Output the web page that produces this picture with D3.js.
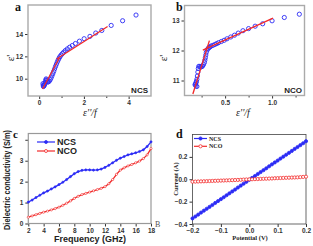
<!DOCTYPE html>
<html>
<head>
<meta charset="utf-8">
<script src="https://cdn.jsdelivr.net/npm/d3@7"></script>
<style>
  body { margin: 0; background: #fff; }
  svg { display: block; }
  .tk text { font-family: "Liberation Sans", Arial, sans-serif; font-weight: bold; fill: #333; }
  .tk path { display: none; }
</style>
</head>
<body>
<svg id="fig" width="313" height="246"></svg>
<script>
// panel a : eps' vs eps''/f (NCS)
const aX = [4.33,3.73,3.22,2.80,2.53,2.27,2.01,1.80,1.62,1.48,1.36,1.26,1.17,1.10,1.04,0.98,0.93,0.89,0.85,0.81,0.77,0.73,0.69,0.65,0.61,0.57,0.53,0.49,0.45,0.41,0.38,0.35,0.33,0.31,0.29,0.27,0.25,0.23,0.21,0.19,0.18,0.17]
const aY = [15.70,15.19,14.77,14.32,14.09,13.79,13.58,13.36,13.15,12.97,12.82,12.67,12.52,12.38,12.25,12.12,11.98,11.84,11.68,11.50,11.30,11.10,10.88,10.66,10.45,10.25,10.06,9.90,9.78,9.72,9.70,9.78,9.90,9.98,9.85,9.66,9.52,9.42,9.35,9.30,9.42,9.56]
const aFits = [[[0.15,9.08],[0.90,11.85]], [[0.78,11.76],[3.06,14.68]]]

// panel b : eps' vs eps''/f (NCO)
const bX = [1.29,1.13,1.00,0.90,0.82,0.75,0.69,0.64,0.60,0.56,0.52,0.49,0.46,0.43,0.41,0.39,0.37,0.35,0.34,0.33,0.32,0.31,0.30,0.295,0.29,0.285,0.28,0.27,0.26,0.25,0.24,0.23,0.22,0.215,0.21,0.205,0.20,0.195,0.19,0.185,0.18,0.19,0.20]
const bY = [13.21,13.10,12.99,12.89,12.81,12.73,12.66,12.58,12.51,12.45,12.39,12.34,12.30,12.26,12.23,12.20,12.17,12.15,12.12,12.10,12.07,12.02,11.94,11.85,11.76,11.68,11.60,11.53,11.48,11.46,11.45,11.47,11.47,11.40,11.28,11.15,11.04,10.97,10.92,10.88,10.86,10.82,10.80]
const bFits = [[[0.157,10.55],[0.333,12.33]], [[0.263,12.01],[1.01,13.08]]]

// panel c : dielectric conductivity vs frequency
const freq = [2,2.5,3,3.5,4,4.5,5,5.5,6,6.5,7,7.5,8,8.5,9,9.5,10,10.5,11,11.5,12,12.5,13,13.5,14,14.5,15,15.5,16,16.5,17,17.5,18]
const condNCS = [1.02,1.12,1.24,1.35,1.46,1.55,1.65,1.75,1.86,1.97,2.10,2.24,2.38,2.48,2.54,2.56,2.56,2.55,2.56,2.60,2.68,2.78,2.90,3.02,3.12,3.20,3.28,3.33,3.38,3.44,3.52,3.68,3.90]
const condNCO = [0.30,0.36,0.42,0.48,0.54,0.59,0.65,0.71,0.78,0.87,0.97,1.08,1.20,1.30,1.38,1.44,1.50,1.56,1.62,1.68,1.76,1.90,2.10,2.35,2.55,2.66,2.75,2.82,2.90,2.98,3.10,3.28,3.58]

// panel d : I-V
const volt = [-0.20,-0.19,-0.18,-0.17,-0.16,-0.15,-0.14,-0.13,-0.12,-0.11,-0.10,-0.09,-0.08,-0.07,-0.06,-0.05,-0.04,-0.03,-0.02,-0.01,0.00,0.01,0.02,0.03,0.04,0.05,0.06,0.07,0.08,0.09,0.10,0.11,0.12,0.13,0.14,0.15,0.16,0.17,0.18,0.19,0.20]
const curNCS = [-0.350,-0.333,-0.316,-0.298,-0.281,-0.264,-0.247,-0.230,-0.212,-0.195,-0.178,-0.161,-0.143,-0.126,-0.109,-0.092,-0.074,-0.057,-0.040,-0.023,-0.005,0.012,0.029,0.047,0.064,0.081,0.098,0.116,0.133,0.150,0.167,0.185,0.202,0.219,0.236,0.253,0.271,0.288,0.305,0.322,0.340]
const curNCO = [-0.022,-0.021,-0.020,-0.019,-0.018,-0.017,-0.016,-0.015,-0.014,-0.013,-0.012,-0.011,-0.010,-0.009,-0.008,-0.007,-0.006,-0.005,-0.003,-0.002,-0.001,0.000,0.001,0.002,0.003,0.004,0.005,0.006,0.007,0.009,0.010,0.011,0.012,0.013,0.014,0.015,0.016,0.017,0.019,0.021,0.023]

const blue = "#2b2bf5", red = "#f22a2a"
const svg = d3.select("#fig")

function frame(x, y, col, w) {
    svg.append("rect")
        .attr("x", x.range()[0]).attr("y", y.range()[1])
        .attr("width", x.range()[1] - x.range()[0])
        .attr("height", y.range()[0] - y.range()[1])
        .attr("fill", "none").attr("stroke", col).attr("stroke-width", w)
}

function axes(x, y, xt, yt, xmin, fs, fmtX, fmtY, col) {
    const gx = svg.append("g").attr("class", "tk")
        .attr("transform", `translate(0,${y.range()[0]})`)
        .call(d3.axisBottom(x).tickValues(xt).tickSize(3).tickPadding(1.5).tickFormat(fmtX))
    const gy = svg.append("g").attr("class", "tk")
        .attr("transform", `translate(${x.range()[0]},0)`)
        .call(d3.axisLeft(y).tickValues(yt).tickSize(3).tickPadding(2).tickFormat(fmtY))
    if (xmin.length) {
        svg.append("g").attr("class", "tk")
            .attr("transform", `translate(0,${y.range()[0]})`)
            .call(d3.axisBottom(x).tickValues(xmin).tickSize(2).tickFormat(""))
    }
    svg.selectAll(".tk text").style("font-size", fs + "px")
    svg.selectAll(".tk line").attr("stroke", col)
}

// ---------- a ----------
const xa = d3.scaleLinear().domain([-0.5, 5]).range([28, 151])
const ya = d3.scaleLinear().domain([8.45, 16.6]).range([96, 5])
axes(xa, ya, [0, 2, 4], [10, 12, 14], [1, 3], 8, d3.format("d"), d3.format("d"), "#999")
frame(xa, ya, "#aaa", 1.4)
svg.append("g").selectAll("circle").data(aX).join("circle")
    .attr("cx", d => xa(d)).attr("cy", (d, i) => ya(aY[i])).attr("r", 2.1)
    .attr("fill", "none").attr("stroke", blue).attr("stroke-width", 0.9)
svg.append("g").selectAll("line").data(aFits).join("line")
    .attr("x1", d => xa(d[0][0])).attr("y1", d => ya(d[0][1]))
    .attr("x2", d => xa(d[1][0])).attr("y2", d => ya(d[1][1]))
    .attr("stroke", red).attr("stroke-width", 1.3)

// ---------- b ----------
const xb = d3.scaleLinear().domain([0.068, 1.345]).range([184.5, 304.5])
const yb = d3.scaleLinear().domain([10.5, 13.5]).range([95.5, 5.5])
axes(xb, yb, [0.5, 1.0], [11, 12, 13], [0.25, 0.75, 1.25], 8, d3.format(".1f"), d3.format("d"), "#999")
frame(xb, yb, "#aaa", 1.4)
svg.append("g").selectAll("circle").data(bX).join("circle")
    .attr("cx", d => xb(d)).attr("cy", (d, i) => yb(bY[i])).attr("r", 2.1)
    .attr("fill", "none").attr("stroke", blue).attr("stroke-width", 0.9)
svg.append("g").selectAll("line").data(bFits).join("line")
    .attr("x1", d => xb(d[0][0])).attr("y1", d => yb(d[0][1]))
    .attr("x2", d => xb(d[1][0])).attr("y2", d => yb(d[1][1]))
    .attr("stroke", red).attr("stroke-width", 1.3)

// ---------- c ----------
const xc = d3.scaleLinear().domain([2, 18]).range([28.3, 151])
const yc = d3.scaleLinear().domain([0, 4.3]).range([223.5, 133.5])
axes(xc, yc, d3.range(2, 19, 2), [0, 1, 2, 3, 4], [], 8, d3.format("d"), d => d == 4 ? "" : d, "#666")
frame(xc, yc, "#999", 1.2)
const lineC = d3.line().x((d, i) => xc(freq[i])).y(d => yc(d))
;[[condNCS, blue, true], [condNCO, red, false]].forEach(([s, c, filled]) => {
    svg.append("path").attr("d", lineC(s)).attr("fill", "none").attr("stroke", c).attr("stroke-width", 1.3)
    svg.append("g").selectAll("circle").data(s).join("circle")
        .attr("cx", (d, i) => xc(freq[i])).attr("cy", d => yc(d)).attr("r", 1.1)
        .attr("fill", filled ? c : "#fff").attr("stroke", c).attr("stroke-width", 0.6)
})

// ---------- d ----------
const xd = d3.scaleLinear().domain([-0.2, 0.2]).range([192.5, 306])
const yd = d3.scaleLinear().domain([-0.4, 0.4]).range([224, 134.5])
axes(xd, yd, [-0.2, -0.1, 0, 0.1, 0.2], [-0.4, -0.2, 0, 0.2], [], 6.5, d3.format(".1f"), d3.format(".1f"), "#333")
frame(xd, yd, "#444", 0.8)
;[[curNCS, blue, true], [curNCO, red, false]].forEach(([s, c, filled]) => {
    svg.append("path").attr("d", d3.line().x((d, i) => xd(volt[i])).y(d => yd(d))(s))
        .attr("fill", "none").attr("stroke", c).attr("stroke-width", 1)
    svg.append("g").selectAll("circle").data(s).join("circle")
        .attr("cx", (d, i) => xd(volt[i])).attr("cy", d => yd(d)).attr("r", 1.6)
        .attr("fill", filled ? c : "#fff").attr("stroke", c).attr("stroke-width", 0.8)
})

// ---------- texts ----------
const serif = "'Liberation Serif', 'Times New Roman', serif"
const sans = "'Liberation Sans', Arial, sans-serif"
function txt(x, y, s, o) {
    const t = svg.append("text").attr("x", x).attr("y", y).text(s)
        .style("font-family", o.ff || sans).style("font-size", o.fs + "px")
        .style("font-weight", o.fw || "bold").style("fill", o.fill || "#222")
        .attr("text-anchor", o.anchor || "start")
    if (o.fst) t.style("font-style", o.fst)
    if (o.rot) t.attr("transform", `rotate(-90,${x},${y})`)
    if (o.len) t.attr("textLength", o.len).attr("lengthAdjust", "spacingAndGlyphs")
    return t
}
txt(15, 11, "a", {ff: serif, fs: 12, fill: "#111"})
txt(176, 11, "b", {ff: serif, fs: 12, fill: "#111"})
txt(13, 138, "c", {ff: serif, fs: 11, fill: "#111"})
txt(176, 138, "d", {ff: serif, fs: 12, fill: "#111"})

txt(14, 58, "ε'", {ff: serif, fs: 11, rot: true, anchor: "middle", fw: "normal"})
txt(167, 58, "ε'", {ff: serif, fs: 11, rot: true, anchor: "middle", fw: "normal"})
txt(90, 116, "ε''/f", {ff: serif, fs: 10, fst: "italic", anchor: "middle", fw: "normal"})
txt(243, 116, "ε''/f", {ff: serif, fs: 10, fst: "italic", anchor: "middle", fw: "normal"})
txt(148, 93, "NCS", {fs: 8, anchor: "end"})
txt(302, 93, "NCO", {fs: 8, anchor: "end"})

txt(10, 180, "Dielectric conductivity (S/m)", {fs: 8.5, rot: true, anchor: "middle", len: 100})
txt(90, 242, "Frequency (GHz)", {fs: 9, anchor: "middle"})

txt(178, 179, "Current (A)", {ff: serif, fs: 6.5, rot: true, anchor: "middle"})
txt(250, 240, "Potential (V)", {ff: serif, fs: 6.5, anchor: "middle"})
txt(155, 227, "B", {ff: serif, fs: 8, fw: "normal", fill: "#555"})

// legends
function legend(x0, x1, y, c, filled, label, fs, ff, r) {
    svg.append("line").attr("x1", x0).attr("x2", x1).attr("y1", y).attr("y2", y)
        .attr("stroke", c).attr("stroke-width", 1.2)
    svg.append("circle").attr("cx", (x0 + x1) / 2).attr("cy", y).attr("r", r)
        .attr("fill", filled ? c : "#fff").attr("stroke", c).attr("stroke-width", 0.8)
    txt(x1 + 2, y + fs * 0.36, label, {fs: fs, ff: ff})
}
legend(37, 55, 142, blue, true, "NCS", 9, sans, 1.5)
legend(37, 55, 151, red, false, "NCO", 9, sans, 1.5)
legend(194, 207, 138.5, blue, true, "NCS", 6, serif, 1.6)
legend(194, 207, 146.3, red, false, "NCO", 6, serif, 1.6)
</script>
</body>
</html>
